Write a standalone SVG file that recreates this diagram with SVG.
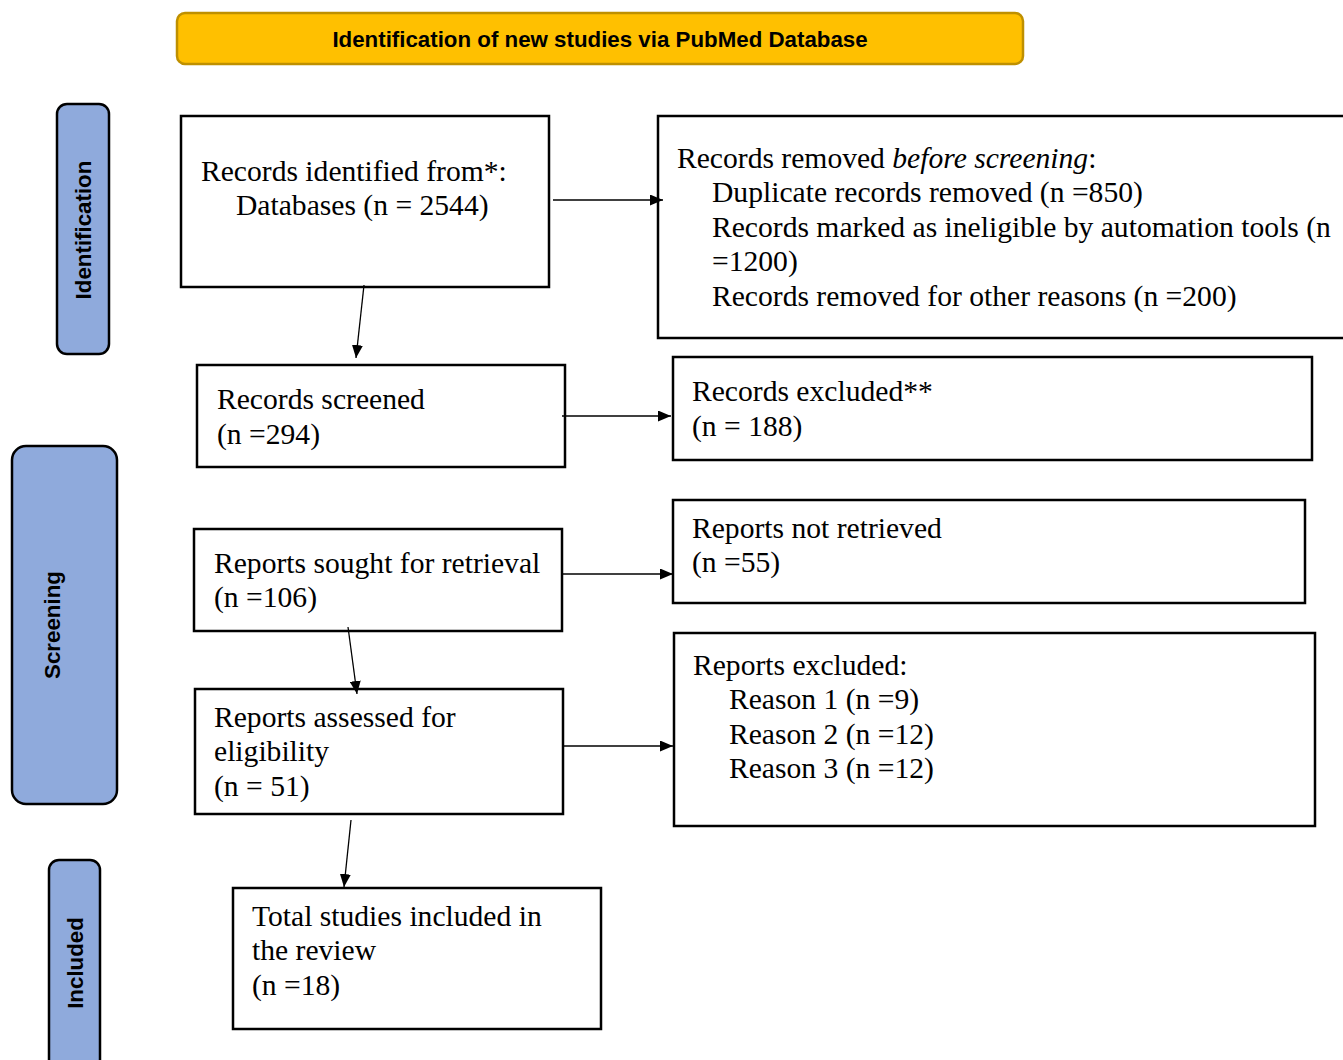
<svg xmlns="http://www.w3.org/2000/svg" width="1343" height="1060" viewBox="0 0 1343 1060">
<defs>
<marker id="ah" viewBox="0 0 13 11" refX="13" refY="5.5" markerWidth="13" markerHeight="11" markerUnits="userSpaceOnUse" orient="auto">
<path d="M0,0 L13,5.5 L0,11 z" fill="#000"/>
</marker>
<style>
.box{fill:#fff;stroke:#000;stroke-width:2.5}
.side{fill:#8FAADC;stroke:#000;stroke-width:2.5}
.t{font-family:"Liberation Serif","Times New Roman",serif;font-size:29.6px;fill:#000}
.b{font-family:"Liberation Sans",Arial,sans-serif;font-weight:bold;font-size:22.3px;fill:#000}
.c{stroke:#000;stroke-width:1.3;fill:none;marker-end:url(#ah)}
</style>
</defs>
<rect width="1343" height="1060" fill="#fff"/>
<g id="title">
<rect x="177" y="13" width="846" height="51" rx="8" fill="#FFC000" stroke="#BF9000" stroke-width="2.5"/>
<text class="b" x="600" y="47" text-anchor="middle" font-size="21.2">Identification of new studies via PubMed Database</text>
</g>
<g id="lane-identification">
<rect class="side" x="57" y="104" width="52" height="250" rx="10"/>
<text class="b" transform="translate(91,230) rotate(-90)" text-anchor="middle">Identification</text>
</g>
<g id="lane-screening">
<rect class="side" x="12" y="446" width="105" height="358" rx="14"/>
<text class="b" transform="translate(60,625) rotate(-90)" text-anchor="middle">Screening</text>
</g>
<g id="lane-included">
<rect class="side" x="49" y="860" width="51" height="215" rx="10"/>
<text class="b" transform="translate(83,963) rotate(-90)" text-anchor="middle">Included</text>
</g>
<g id="identified">
<rect class="box" x="181" y="116" width="368" height="171"/>
<text class="t" x="201" y="181">Records identified from*:</text>
<text class="t" x="236" y="215">Databases (n = 2544)</text>
</g>
<g id="removed">
<rect class="box" x="658" y="116" width="700" height="222"/>
<text class="t" x="677" y="168">Records removed <tspan font-style="italic">before screening</tspan>:</text>
<text class="t" x="712" y="202">Duplicate records removed (n =850)</text>
<text class="t" x="712" y="237">Records marked as ineligible by automation tools (n</text>
<text class="t" x="712" y="271">=1200)</text>
<text class="t" x="712" y="306">Records removed for other reasons (n =200)</text>
</g>
<g id="screened">
<rect class="box" x="197" y="365" width="368" height="102"/>
<text class="t" x="217" y="409">Records screened</text>
<text class="t" x="217" y="444">(n =294)</text>
</g>
<g id="excluded">
<rect class="box" x="673" y="357" width="639" height="103"/>
<text class="t" x="692" y="401">Records excluded**</text>
<text class="t" x="692" y="436">(n = 188)</text>
</g>
<g id="sought">
<rect class="box" x="194" y="529" width="368" height="102"/>
<text class="t" x="214" y="573">Reports sought for retrieval</text>
<text class="t" x="214" y="607">(n =106)</text>
</g>
<g id="notretrieved">
<rect class="box" x="673" y="500" width="632" height="103"/>
<text class="t" x="692" y="538">Reports not retrieved</text>
<text class="t" x="692" y="572">(n =55)</text>
</g>
<g id="assessed">
<rect class="box" x="195" y="689" width="368" height="125"/>
<text class="t" x="214" y="727">Reports assessed for</text>
<text class="t" x="214" y="761">eligibility</text>
<text class="t" x="214" y="796">(n = 51)</text>
</g>
<g id="reportsexcluded">
<rect class="box" x="674" y="633" width="641" height="193"/>
<text class="t" x="693" y="675">Reports excluded:</text>
<text class="t" x="729" y="709">Reason 1 (n =9)</text>
<text class="t" x="729" y="744">Reason 2 (n =12)</text>
<text class="t" x="729" y="778">Reason 3 (n =12)</text>
</g>
<g id="included">
<rect class="box" x="233" y="888" width="368" height="141"/>
<text class="t" x="252" y="926">Total studies included in</text>
<text class="t" x="252" y="960">the review</text>
<text class="t" x="252" y="995">(n =18)</text>
</g>
<g id="connectors">
<line class="c" x1="553" y1="200" x2="663" y2="200"/>
<line class="c" x1="364" y1="285" x2="356" y2="358"/>
<line class="c" x1="562" y1="416" x2="671" y2="416"/>
<line class="c" x1="563" y1="574" x2="673" y2="574"/>
<line class="c" x1="348" y1="627" x2="357" y2="694"/>
<line class="c" x1="563" y1="746" x2="673" y2="746"/>
<line class="c" x1="351" y1="820" x2="344" y2="887"/>
</g>
</svg>
